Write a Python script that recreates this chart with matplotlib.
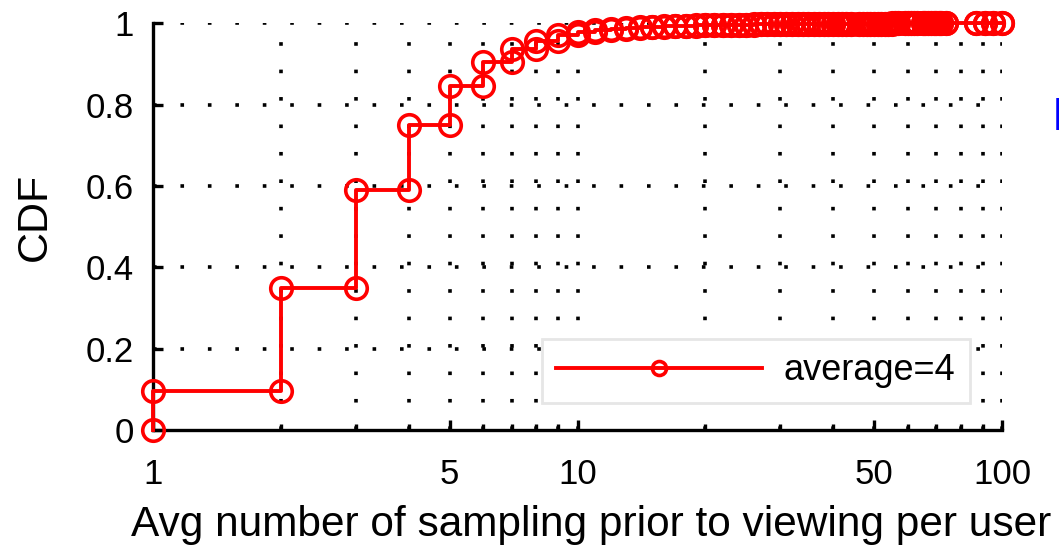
import matplotlib
matplotlib.use("Agg")
import matplotlib.pyplot as plt
from matplotlib.ticker import FixedLocator, NullFormatter

plt.rcParams['font.family'] = ['Liberation Sans', 'DejaVu Sans']

# per-user average sampling counts (x) and CDF reached at each of them
x_vals = [1, 2, 3, 4, 5, 6, 7, 8, 9, 10,
          11, 12, 13, 14, 15, 16, 17, 18, 19, 20,
          21, 22, 23, 24, 25, 26, 27, 28, 29, 30,
          31, 32, 33, 34, 35, 36, 37, 38, 39, 40,
          41, 42, 43, 44,
          46, 47, 48, 49, 50, 51, 52, 53, 54, 55, 56, 57,
          59, 60, 61, 62, 63,
          65, 66, 67, 68, 69, 70, 71, 72,
          74,
          87, 91, 95, 100]
cdf_vals = [0.095, 0.350, 0.591, 0.749, 0.846, 0.904, 0.937, 0.957, 0.971, 0.979,
            0.984, 0.987, 0.989, 0.991, 0.992, 0.993, 0.994, 0.9945, 0.995, 0.9955,
            0.996, 0.9963, 0.9966, 0.9968, 0.997, 0.9972, 0.9974, 0.9976, 0.9978, 0.998,
            0.9981, 0.9982, 0.9983, 0.9984, 0.9985, 0.9986, 0.9987, 0.9988, 0.9989, 0.999,
            0.9991, 0.9991, 0.9992, 0.9992,
            0.9993, 0.9993, 0.9993, 0.9994, 0.9994, 0.9994, 0.9995, 0.9995, 0.9995,
            0.9996, 0.9996, 0.9996,
            0.9997, 0.9997, 0.9997, 0.9997, 0.9998,
            0.9998, 0.9998, 0.9998, 0.9998, 0.9998, 0.9999, 0.9999, 0.9999,
            0.9999,
            0.9999, 0.9999, 1.0, 1.0]
legend_label = "average=4"
x_major = [1, 5, 10, 50, 100]
x_minor = [2, 3, 4, 6, 7, 8, 9, 20, 30, 40, 60, 70, 80, 90]
y_ticks = [0, 0.2, 0.4, 0.6, 0.8, 1.0]
y_ticklabels = ["0", "0.2", "0.4", "0.6", "0.8", "1"]

# build step points: each x gets (x, previous cdf) and (x, new cdf)
step_x, step_y = [], []
prev = 0.0
for x, c in zip(x_vals, cdf_vals):
    step_x += [x, x]
    step_y += [prev, c]
    prev = c

fig = plt.figure(figsize=(10.59, 5.49), dpi=100)
ax = fig.add_axes([153 / 1059, 119 / 549, 849 / 1059, 406.7 / 549])

ax.set_xscale('log')
ax.set_xlim(1, 100)
ax.set_ylim(0, 1)

# dotted grid
for gx in x_minor + x_major[1:]:
    ax.axvline(gx, color='black', lw=2.6, ls=(0, (1, 6.6)), zorder=1)
for gy in y_ticks[1:]:
    ax.axhline(gy, color='black', lw=2.6, ls=(0, (1, 6.6)), zorder=1)

ax.plot(step_x, step_y, color='red', lw=2.8, marker='o', ms=15.5,
        mfc='none', mec='red', mew=2.6, clip_on=False, zorder=5,
        label=legend_label)

for side in ['top', 'right']:
    ax.spines[side].set_visible(False)
for side in ['left', 'bottom']:
    ax.spines[side].set_linewidth(2.4)

ax.xaxis.set_major_locator(FixedLocator(x_major))
ax.xaxis.set_minor_locator(FixedLocator(x_minor))
ax.xaxis.set_minor_formatter(NullFormatter())
ax.set_xticklabels([str(v) for v in x_major])
ax.set_yticks(y_ticks)
ax.set_yticklabels(y_ticklabels)
ax.tick_params(axis='both', which='major', direction='in', length=7, width=2.4,
               labelsize=25, top=False, right=False)
ax.tick_params(axis='x', which='minor', direction='in', length=4, width=2.4)
ax.tick_params(axis='x', which='major', pad=20)
ax.tick_params(axis='y', which='major', pad=14)

ax.set_ylabel('CDF', fontsize=31)
ax.yaxis.set_label_coords(-0.115, 0.524)
ax.set_xlabel('Avg number of sampling prior to viewing per user', fontsize=30.5)
ax.xaxis.set_label_coords(0.5165, -0.185)

leg = ax.legend(loc='lower right', bbox_to_anchor=(0.962, 0.067), borderaxespad=0,
                fontsize=26, handlelength=5.7, handletextpad=0.6, borderpad=0.4,
                markerscale=0.65, fancybox=False, framealpha=1)
leg.get_frame().set_edgecolor('#e6e6e6')
leg.get_frame().set_linewidth(2)

# cut-off blue text at the slide's right edge
fig.text(1052 / 1059, 1 - 118 / 549, 'I', color='#0000ff', fontsize=33,
         ha='left', va='center')

fig.savefig('out.png', dpi=100)
